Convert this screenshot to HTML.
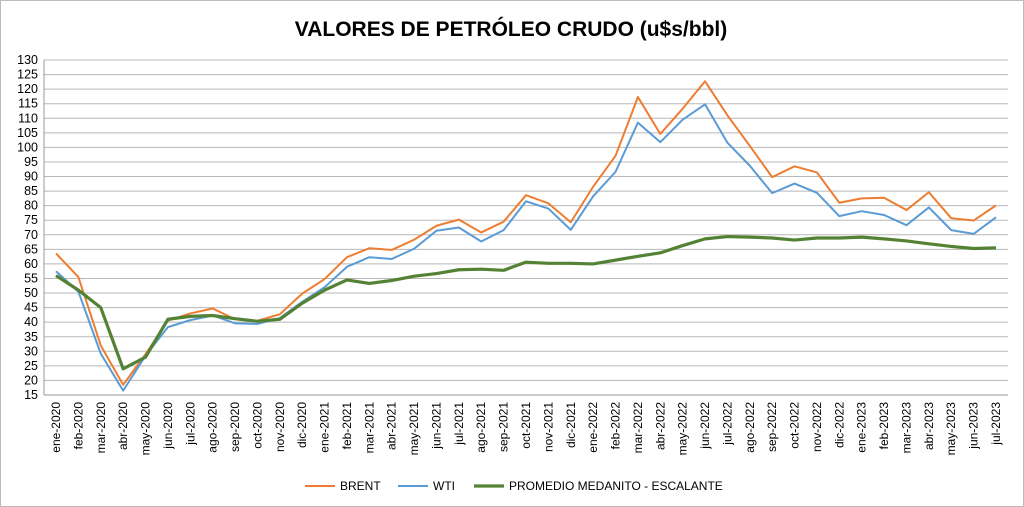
<!DOCTYPE html>
<html><head><meta charset="utf-8"><style>
html,body{margin:0;padding:0;background:#fff;}
svg{display:block;font-family:"Liberation Sans",Arial,sans-serif;}
</style></head><body>
<svg width="1024" height="507" viewBox="0 0 1024 507">
<rect x="0.5" y="0.5" width="1023" height="506" fill="#fff" stroke="#bbb"/>
<text x="511" y="36" text-anchor="middle" font-size="21" font-weight="bold" fill="#000">VALORES DE PETRÓLEO CRUDO (u$s/bbl)</text>
<g transform="translate(44,395) scale(1,-2.913)" stroke="#b8b8b8" fill="none">
<path vector-effect="non-scaling-stroke" d="M0 5H964M0 10H964M0 15H964M0 20H964M0 25H964M0 30H964M0 35H964M0 40H964M0 45H964M0 50H964M0 55H964M0 60H964M0 65H964M0 70H964M0 75H964M0 80H964M0 85H964M0 90H964M0 95H964M0 100H964M0 105H964M0 110H964M0 115H964"/>
<path vector-effect="non-scaling-stroke" d="M0 0H964M0 0V115" stroke="#999"/>
</g>
<g font-size="12.5" fill="#000" text-anchor="end">
<text x="38" y="64">130</text><text x="38" y="78.6">125</text><text x="38" y="93.1">120</text><text x="38" y="107.7">115</text><text x="38" y="122.3">110</text><text x="38" y="136.8">105</text><text x="38" y="151.4">100</text><text x="38" y="166">95</text><text x="38" y="180.5">90</text><text x="38" y="195.1">85</text><text x="38" y="209.7">80</text><text x="38" y="224.2">75</text><text x="38" y="238.8">70</text><text x="38" y="253.4">65</text><text x="38" y="267.9">60</text><text x="38" y="282.5">55</text><text x="38" y="297.1">50</text><text x="38" y="311.6">45</text><text x="38" y="326.2">40</text><text x="38" y="340.8">35</text><text x="38" y="355.3">30</text><text x="38" y="369.9">25</text><text x="38" y="384.4">20</text><text x="38" y="399">15</text>
</g>
<g font-size="12" fill="#000" text-anchor="end">
<text transform="translate(60,402) rotate(-90)">ene-2020</text>
<text transform="translate(82.4,402) rotate(-90)">feb-2020</text>
<text transform="translate(104.8,402) rotate(-90)">mar-2020</text>
<text transform="translate(127.1,402) rotate(-90)">abr-2020</text>
<text transform="translate(149.5,402) rotate(-90)">may-2020</text>
<text transform="translate(171.9,402) rotate(-90)">jun-2020</text>
<text transform="translate(194.3,402) rotate(-90)">jul-2020</text>
<text transform="translate(216.7,402) rotate(-90)">ago-2020</text>
<text transform="translate(239,402) rotate(-90)">sep-2020</text>
<text transform="translate(261.4,402) rotate(-90)">oct-2020</text>
<text transform="translate(283.8,402) rotate(-90)">nov-2020</text>
<text transform="translate(306.2,402) rotate(-90)">dic-2020</text>
<text transform="translate(328.6,402) rotate(-90)">ene-2021</text>
<text transform="translate(351,402) rotate(-90)">feb-2021</text>
<text transform="translate(373.3,402) rotate(-90)">mar-2021</text>
<text transform="translate(395.7,402) rotate(-90)">abr-2021</text>
<text transform="translate(418.1,402) rotate(-90)">may-2021</text>
<text transform="translate(440.5,402) rotate(-90)">jun-2021</text>
<text transform="translate(462.9,402) rotate(-90)">jul-2021</text>
<text transform="translate(485.2,402) rotate(-90)">ago-2021</text>
<text transform="translate(507.6,402) rotate(-90)">sep-2021</text>
<text transform="translate(530,402) rotate(-90)">oct-2021</text>
<text transform="translate(552.4,402) rotate(-90)">nov-2021</text>
<text transform="translate(574.8,402) rotate(-90)">dic-2021</text>
<text transform="translate(597.1,402) rotate(-90)">ene-2022</text>
<text transform="translate(619.5,402) rotate(-90)">feb-2022</text>
<text transform="translate(641.9,402) rotate(-90)">mar-2022</text>
<text transform="translate(664.3,402) rotate(-90)">abr-2022</text>
<text transform="translate(686.7,402) rotate(-90)">may-2022</text>
<text transform="translate(709,402) rotate(-90)">jun-2022</text>
<text transform="translate(731.4,402) rotate(-90)">jul-2022</text>
<text transform="translate(753.8,402) rotate(-90)">ago-2022</text>
<text transform="translate(776.2,402) rotate(-90)">sep-2022</text>
<text transform="translate(798.6,402) rotate(-90)">oct-2022</text>
<text transform="translate(821,402) rotate(-90)">nov-2022</text>
<text transform="translate(843.3,402) rotate(-90)">dic-2022</text>
<text transform="translate(865.7,402) rotate(-90)">ene-2023</text>
<text transform="translate(888.1,402) rotate(-90)">feb-2023</text>
<text transform="translate(910.5,402) rotate(-90)">mar-2023</text>
<text transform="translate(932.9,402) rotate(-90)">abr-2023</text>
<text transform="translate(955.2,402) rotate(-90)">may-2023</text>
<text transform="translate(977.6,402) rotate(-90)">jun-2023</text>
<text transform="translate(1000,402) rotate(-90)">jul-2023</text>
</g>
<g transform="translate(56,438.7) scale(22.381,-2.913)" fill="none" stroke-linejoin="round">
<polyline vector-effect="non-scaling-stroke" stroke="#ed7d31" stroke-width="2" points="0,63.6 1,55.5 2,32 3,18.5 4,29 5,40.5 6,43 7,44.7 8,41 9,40.5 10,42.7 11,49.8 12,54.8 13,62.3 14,65.4 15,64.8 16,68.3 17,73.1 18,75.2 19,70.8 20,74.5 21,83.6 22,80.8 23,74.3 24,86.5 25,97.1 26,117.3 27,104.6 28,113.3 29,122.7 30,111 31,100.5 32,89.8 33,93.5 34,91.4 35,81 36,82.5 37,82.7 38,78.5 39,84.6 40,75.7 41,74.9 42,80.1"/>
<polyline vector-effect="non-scaling-stroke" stroke="#5b9bd5" stroke-width="2" points="0,57.5 1,50.5 2,29.2 3,16.5 4,28.5 5,38.3 6,40.7 7,42.3 8,39.6 9,39.4 10,41.4 11,47 12,52 13,59 14,62.3 15,61.7 16,65.2 17,71.4 18,72.5 19,67.7 20,71.6 21,81.5 22,79 23,71.7 24,83.2 25,91.6 26,108.5 27,101.8 28,109.5 29,114.8 30,101.6 31,93.7 32,84.3 33,87.6 34,84.4 35,76.4 36,78.1 37,76.8 38,73.3 39,79.4 40,71.6 41,70.3 42,76"/>
<polyline vector-effect="non-scaling-stroke" stroke="#548235" stroke-width="3.2" points="0,56 1,51 2,45 3,24 4,28 5,41 6,42 7,42.3 8,41.2 9,40.3 10,41 11,46.5 12,51 13,54.5 14,53.3 15,54.3 16,55.8 17,56.7 18,58 19,58.2 20,57.8 21,60.6 22,60.2 23,60.2 24,60 25,61.3 26,62.6 27,63.8 28,66.3 29,68.6 30,69.4 31,69.2 32,68.9 33,68.2 34,68.9 35,68.9 36,69.2 37,68.6 38,67.9 39,66.9 40,66 41,65.3 42,65.5"/>
</g>
<g font-size="12" fill="#000">
<line x1="305" y1="486" x2="335" y2="486" stroke="#ed7d31" stroke-width="2"/>
<text x="340" y="490">BRENT</text>
<line x1="398" y1="486" x2="428" y2="486" stroke="#5b9bd5" stroke-width="2"/>
<text x="433" y="490">WTI</text>
<line x1="474" y1="486" x2="504" y2="486" stroke="#548235" stroke-width="3.2"/>
<text x="509" y="490">PROMEDIO MEDANITO - ESCALANTE</text>
</g>
</svg>
</body></html>
